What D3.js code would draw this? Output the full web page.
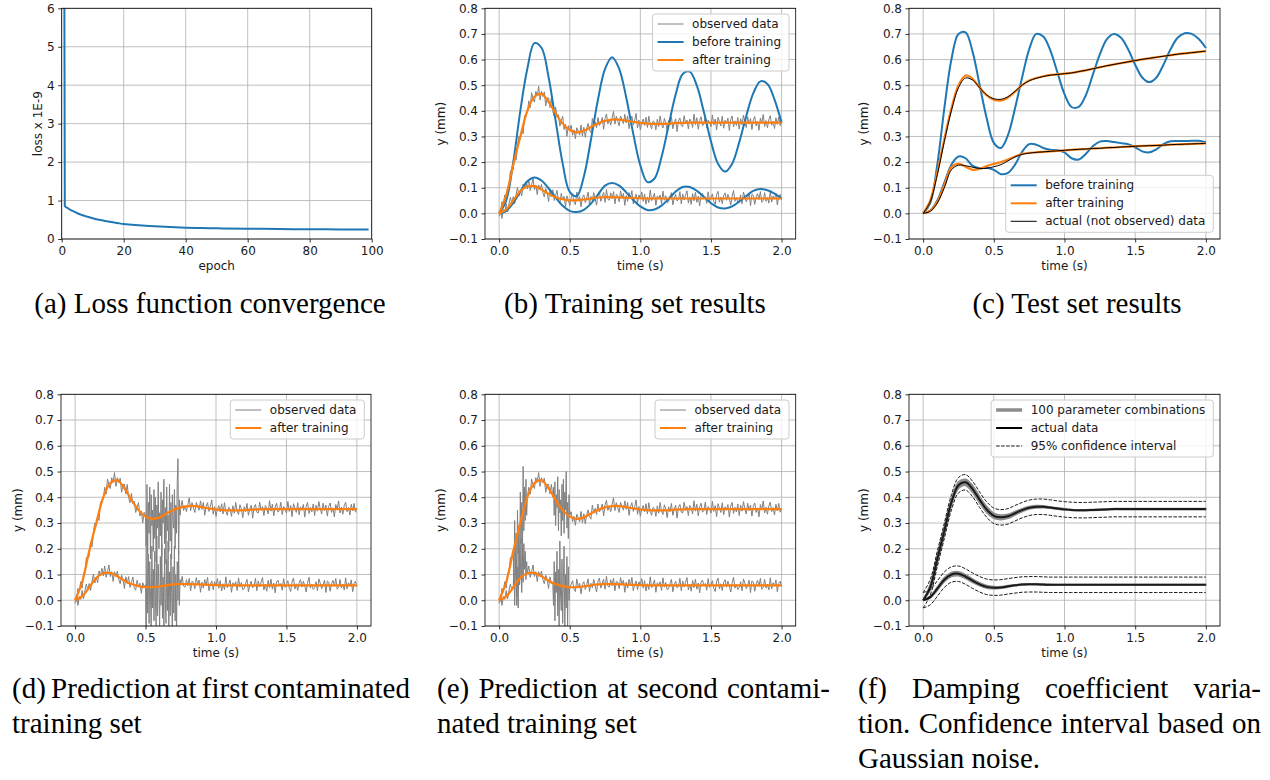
<!DOCTYPE html>
<html><head><meta charset="utf-8">
<script src="https://cdn.jsdelivr.net/npm/d3@7"></script>
<style>
body{margin:0;background:#fff}
svg text{font-family:"DejaVu Sans",sans-serif}
.cap{font-family:"Liberation Serif","Times New Roman",serif;font-size:29px;fill:#000}
</style></head><body>
<svg id="fig" width="1270" height="780"></svg>
<script>
// ---------------- DATA ----------------
// (a) loss convergence
const lossEpochs = [0,1,2,3,4,5,6,7,8,10,12,14,16,18,20,25,30,35,40,45,50,60,70,80,90,99];
const lossValues = [40,.86,.80,.75,.71,.67,.64,.61,.585,.54,.50,.47,.44,.415,.39,.355,.33,.31,.295,.285,.278,.268,.26,.253,.248,.244];
const lossXTicks = [0,20,40,60,80,100];
const lossYTicks = [0,1,2,3,4,5,6];

// common time grid for smooth curves (s)
const T = [0,.05,.1,.15,.2,.25,.3,.35,.4,.45,.5,.55,.6,.65,.7,.75,.8,.85,.9,.95,1,1.05,1.1,1.15,1.2,1.25,1.3,1.35,1.4,1.45,1.5,1.55,1.6,1.65,1.7,1.75,1.8,1.85,1.9,1.95,2];
const timeTicks = [0,0.5,1,1.5,2];
const yTicks = [-0.1,0,0.1,0.2,0.3,0.4,0.5,0.6,0.7,0.8];

// (b) training set
const trainBeforeUp = [0,.05,.2,.4,.565,.664,.646,.532,.362,.194,.084,.068,.144,.287,.444,.564,.609,.564,.452,.31,.187,.122,.136,.22,.343,.464,.544,.553,.498,.395,.281,.194,.163,.194,.277,.38,.469,.515,.505,.444,.354];
const trainBeforeLo = [0,.01,.04,.085,.125,.14,.128,.098,.062,.03,.01,.005,.014,.038,.073,.108,.118,.108,.082,.052,.027,.013,.015,.03,.056,.085,.103,.103,.088,.064,.04,.023,.019,.027,.046,.068,.088,.095,.09,.077,.058];
const trainAfterUp = [0,.07,.19,.30,.40,.455,.466,.435,.39,.35,.325,.316,.322,.337,.351,.361,.366,.366,.362,.357,.353,.35,.349,.349,.35,.352,.353,.354,.354,.354,.354,.354,.354,.354,.354,.354,.354,.354,.354,.354,.354];
const trainAfterLo = [0,.015,.05,.087,.105,.106,.093,.076,.063,.055,.051,.051,.054,.058,.062,.063,.063,.062,.061,.06,.059,.058,.058,.058,.058,.058,.058,.058,.058,.058,.058,.058,.058,.058,.058,.058,.058,.058,.058,.058,.058];

// observed (noisy) data, sampled every 0.01 s from 0 to 2 s
const obsUp = [
.008,-.004,.046,.035,.072,.047,.105,.108,.167,.162,
.172,.227,.207,.262,.30,.289,.323,.31,.379,.389,
.393,.439,.412,.471,.447,.434,.476,.458,.496,.442,
.476,.456,.474,.419,.449,.451,.413,.45,.398,.379,
.415,.375,.385,.341,.361,.379,.327,.347,.301,.342,
.324,.344,.305,.326,.291,.334,.321,.305,.345,.301,
.336,.297,.331,.351,.325,.315,.37,.338,.357,.333,
.374,.343,.352,.374,.328,.37,.388,.349,.366,.344,
.372,.398,.348,.379,.359,.341,.38,.365,.35,.386,
.353,.38,.33,.363,.379,.345,.364,.39,.334,.364,
.326,.354,.368,.343,.375,.335,.379,.345,.33,.361,
.356,.326,.367,.338,.38,.347,.333,.371,.354,.321,
.363,.344,.376,.33,.353,.369,.319,.361,.372,.342,
.339,.381,.35,.364,.329,.368,.359,.335,.387,.346,
.373,.328,.362,.377,.342,.349,.381,.333,.364,.356,
.338,.384,.345,.368,.325,.375,.358,.341,.379,.332,
.363,.35,.372,.323,.366,.38,.337,.361,.343,.374,
.329,.369,.346,.383,.355,.335,.377,.348,.37,.327,
.365,.378,.341,.359,.324,.372,.352,.386,.339,.362,
.334,.367,.381,.344,.36,.331,.373,.347,.376,.342,
.358];
const obsLo = [
-.012,.021,-.02,.015,.003,.038,.005,.039,.063,.039,
.065,.038,.074,.101,.067,.09,.068,.114,.095,.124,
.095,.133,.089,.112,.137,.092,.111,.073,.111,.093,
.113,.08,.064,.097,.081,.046,.091,.065,.092,.05,
.069,.09,.049,.039,.078,.052,.066,.027,.068,.053,
.03,.061,.076,.044,.034,.083,.051,.066,.025,.062,
.072,.042,.06,.083,.034,.066,.049,.081,.056,.032,
.075,.086,.047,.066,.082,.043,.093,.055,.051,.08,
.057,.085,.037,.074,.07,.045,.088,.06,.078,.031,
.07,.047,.081,.056,.089,.037,.061,.075,.041,.072,
.056,.084,.047,.076,.036,.064,.042,.091,.049,.062,
.079,.031,.068,.057,.072,.038,.087,.051,.069,.041,
.045,.066,.081,.033,.06,.074,.048,.054,.085,.037,
.075,.052,.07,.088,.04,.063,.035,.077,.049,.082,
.043,.067,.029,.071,.078,.056,.065,.039,.084,.05,
.061,.076,.046,.034,.073,.086,.044,.064,.038,.069,
.08,.051,.074,.057,.032,.068,.089,.047,.062,.042,
.049,.072,.037,.083,.066,.045,.059,.078,.03,.075,
.07,.035,.064,.077,.054,.085,.043,.05,.081,.047,
.063,.04,.087,.044,.068,.055,.079,.033,.066,.074,
.053];

// contaminated segments (sampled every 0.005 s)
// (d) first contaminated set: 0.50 - 0.75 s
const segDStart = 0.5, segDEnd = 0.75;
const segUpD = [.33,.21,.45,.18,.38,.26,.44,.16,.41,.29,.35,.19,.43,.24,.40,.15,.37,.28,.46,.2,.34,.25,.42,.17,.39,.3,.47,.22,.36,.14,.44,.27,.33,.19,.45,.23,.38,.16,.41,.31,.28,.43,.2,.37,.26,.46,.55,.18,.39,.33,.36];
const segLoD = [.06,-.11,.24,-.05,.18,-.09,.15,.02,-.12,.21,-.03,.12,-.08,.19,0,-.1,.25,-.06,.14,.04,-.11,.17,-.02,.22,-.07,.09,-.12,.2,.01,-.09,.16,-.04,.23,-.1,.11,-.06,.18,.03,-.12,.13,-.05,.21,-.08,.1,-.13,.15,0,.19,-.02,.08,.06];
// (e) second contaminated set: 0.10 - 0.20 s and 0.38 - 0.50 s
const segE1Start = 0.1, segE1End = 0.2, segE2Start = 0.38, segE2End = 0.5;
const segUpE1 = [.19,.05,.31,.12,.26,-.02,.35,.18,.29,.09,.42,.22,.38,.15,.52,.27,.44,.31,.47,.33,.40];
const segLoE1 = [.05,.12,-.02,.09,.16,.01,.13,-.03,.2,.06,.1,.24,.03,.17,.07,.22,.12,.19,.08,.15,.105];
const segUpE2 = [.40,.44,.33,.46,.29,.41,.36,.48,.27,.43,.34,.39,.25,.45,.31,.47,.26,.42,.35,.5,.28,.38,.24,.41,.33];
const segLoE2 = [.07,-.02,.15,-.08,.11,.03,.19,-.06,.12,-.11,.23,.02,-.04,.16,-.09,.08,.21,-.12,.1,-.03,.17,-.1,.13,0,.05];

// (c) test set
const testBeforeUp = [0,.04,.19,.41,.6,.7,.706,.63,.5,.37,.275,.255,.305,.41,.53,.64,.70,.69,.635,.55,.465,.415,.415,.46,.54,.62,.68,.70,.685,.64,.58,.53,.512,.53,.58,.64,.685,.703,.70,.68,.645];
const testAfterUp = [0,.05,.16,.29,.41,.5,.538,.525,.49,.46,.443,.44,.452,.475,.50,.518,.528,.535,.54,.542,.545,.548,.553,.558,.564,.57,.576,.581,.586,.591,.596,.601,.605,.609,.613,.617,.621,.624,.627,.63,.633];
const testActualUp = [0,.045,.15,.28,.40,.49,.528,.52,.49,.462,.447,.445,.455,.476,.50,.517,.527,.534,.539,.542,.545,.548,.553,.558,.564,.57,.576,.581,.586,.591,.596,.601,.605,.609,.613,.617,.621,.624,.627,.63,.633];
const testBeforeLo = [0,.01,.05,.12,.19,.222,.215,.185,.176,.178,.17,.153,.158,.19,.24,.27,.268,.255,.248,.246,.238,.215,.21,.232,.262,.28,.282,.278,.274,.27,.258,.242,.238,.25,.27,.281,.282,.282,.283,.283,.278];
const testAfterLo = [0,.01,.045,.11,.18,.193,.182,.17,.174,.185,.193,.20,.21,.222,.232,.236,.238,.24,.242,.244,.246,.248,.25,.251,.253,.254,.256,.257,.259,.26,.262,.263,.264,.265,.266,.268,.269,.27,.271,.272,.273];
const testActualLo = [0,.008,.04,.10,.17,.188,.186,.18,.175,.176,.182,.19,.205,.22,.23,.235,.238,.24,.242,.244,.246,.248,.25,.251,.253,.254,.256,.257,.259,.26,.262,.263,.264,.265,.266,.268,.269,.27,.271,.272,.273];

// (f) damping coefficient variation
const dampActualUp = [0,.05,.16,.27,.38,.447,.458,.432,.39,.352,.328,.322,.326,.338,.35,.359,.363,.363,.36,.356,.353,.351,.35,.35,.351,.352,.353,.354,.354,.354,.354,.354,.354,.354,.354,.354,.354,.354,.354,.354,.354];
const combosHiUp = [0,.062,.176,.286,.393,.46,.47,.446,.403,.364,.338,.331,.334,.345,.356,.364,.368,.367,.363,.359,.356,.353,.352,.352,.353,.354,.355,.356,.356,.356,.356,.356,.356,.356,.356,.356,.356,.356,.356,.356,.356];
const combosLoUp = [0,.038,.144,.254,.367,.434,.446,.418,.377,.34,.318,.313,.318,.331,.344,.354,.358,.359,.357,.353,.35,.349,.348,.348,.349,.35,.351,.352,.352,.352,.352,.352,.352,.352,.352,.352,.352,.352,.352,.352,.352];
const ciHiUp = [.03,.08,.19,.30,.41,.477,.488,.462,.42,.382,.358,.352,.356,.368,.38,.389,.393,.393,.39,.386,.383,.381,.38,.38,.381,.382,.383,.384,.384,.384,.384,.384,.384,.384,.384,.384,.384,.384,.384,.384,.384];
const ciLoUp = [-.03,.02,.13,.24,.35,.417,.428,.402,.36,.322,.298,.292,.296,.308,.32,.329,.333,.333,.33,.326,.323,.321,.32,.32,.321,.322,.323,.324,.324,.324,.324,.324,.324,.324,.324,.324,.324,.324,.324,.324,.324];
const dampActualLo = [0,.012,.045,.08,.1,.103,.092,.076,.062,.052,.049,.05,.054,.058,.061,.062,.062,.061,.06,.06,.06,.06,.06,.06,.06,.06,.06,.06,.06,.06,.06,.06,.06,.06,.06,.06,.06,.06,.06,.06,.06];
const combosHiLo = [0,.016,.052,.088,.108,.111,.1,.083,.068,.057,.053,.053,.057,.06,.063,.064,.064,.063,.062,.061,.061,.061,.061,.061,.061,.061,.061,.061,.061,.061,.061,.061,.061,.061,.061,.061,.061,.061,.061,.061,.061];
const combosLoLo = [0,.008,.038,.072,.092,.095,.084,.069,.056,.047,.045,.047,.051,.056,.059,.06,.06,.059,.058,.059,.059,.059,.059,.059,.059,.059,.059,.059,.059,.059,.059,.059,.059,.059,.059,.059,.059,.059,.059,.059,.059];
const ciHiLo = [.03,.042,.075,.11,.13,.133,.122,.106,.092,.082,.079,.08,.084,.088,.091,.092,.092,.091,.09,.09,.09,.09,.09,.09,.09,.09,.09,.09,.09,.09,.09,.09,.09,.09,.09,.09,.09,.09,.09,.09,.09];
const ciLoLo = [-.03,-.018,.015,.05,.07,.073,.062,.046,.032,.022,.019,.02,.024,.028,.031,.032,.032,.031,.03,.03,.03,.03,.03,.03,.03,.03,.03,.03,.03,.03,.03,.03,.03,.03,.03,.03,.03,.03,.03,.03,.03];

// captions
const captionA = "(a) Loss function convergence";
const captionB = "(b) Training set results";
const captionC = "(c) Test set results";
const captionD = ["(d) Prediction at first contaminated", "training set"];
const captionE = ["(e) Prediction at second contami-", "nated training set"];
const captionF = ["(f) Damping coefficient varia-", "tion. Confidence interval based on", "Gaussian noise."];

// ---------------- DRAWING ----------------
const BLUE = "#1f77b4", ORANGE = "#ff7f0e", GREY = "#808080";
const FS = 12;
const fig = d3.select("#fig");
fig.append("rect").attr("width",1270).attr("height",780).attr("fill","#fff");

const T100 = d3.range(201).map(i => i / 100);
const pts = (ts, ys) => ts.map((t, i) => ({t, y: ys[i]}));
const segTimes = (t0, n) => d3.range(n).map(i => t0 + i * 0.005);
function spliceSeg(base, segs) {
  let out = base.filter(p => !segs.some(s => p.t >= s.t0 - 1e-9 && p.t <= s.t1 + 1e-9));
  segs.forEach(s => { out = out.concat(s.pts); });
  return out.sort((a, b) => a.t - b.t);
}

let clipN = 0;
function makePanel(b, xDom, yDom, xTicks, yTicks, xFmt, yFmt, xLab, yLab, yLabOff) {
  const x = d3.scaleLinear().domain(xDom).range([b.x0, b.x1]);
  const y = d3.scaleLinear().domain(yDom).range([b.y1, b.y0]);
  const g = fig.append("g");
  const grid = g.append("g").attr("stroke", "#b0b0b0").attr("stroke-width", 0.8);
  xTicks.forEach(v => grid.append("line").attr("x1", x(v)).attr("x2", x(v)).attr("y1", b.y0).attr("y2", b.y1));
  yTicks.forEach(v => grid.append("line").attr("y1", y(v)).attr("y2", y(v)).attr("x1", b.x0).attr("x2", b.x1));
  const id = "clip" + (clipN++);
  g.append("clipPath").attr("id", id).append("rect")
    .attr("x", b.x0).attr("y", b.y0).attr("width", b.x1 - b.x0).attr("height", b.y1 - b.y0);
  const plot = g.append("g").attr("clip-path", `url(#${id})`);
  const ax = g.append("g").attr("transform", `translate(0,${b.y1})`)
    .call(d3.axisBottom(x).tickValues(xTicks).tickFormat(xFmt).tickSize(3.5).tickPadding(3.5));
  const ay = g.append("g").attr("transform", `translate(${b.x0},0)`)
    .call(d3.axisLeft(y).tickValues(yTicks).tickFormat(yFmt).tickSize(3.5).tickPadding(3.5));
  [ax, ay].forEach(a => {
    a.select(".domain").remove();
    a.selectAll("line").attr("stroke", "#000").attr("stroke-width", 0.8);
    a.selectAll("text").attr("font-size", FS).attr("font-family", "DejaVu Sans").attr("fill", "#1a1a1a");
  });
  g.append("rect").attr("x", b.x0).attr("y", b.y0).attr("width", b.x1 - b.x0).attr("height", b.y1 - b.y0)
    .attr("fill", "none").attr("stroke", "#000").attr("stroke-width", 0.8);
  g.append("text").attr("x", (b.x0 + b.x1) / 2).attr("y", b.y1 + 31).attr("text-anchor", "middle")
    .attr("font-size", FS).attr("fill", "#1a1a1a").text(xLab);
  g.append("text").attr("transform", `translate(${b.x0 - yLabOff},${(b.y0 + b.y1) / 2}) rotate(-90)`)
    .attr("text-anchor", "middle").attr("dy", "0.35em").attr("font-size", FS).attr("fill", "#1a1a1a").text(yLab);
  return {g, plot, x, y, b};
}

function drawLine(P, data, color, w, curve, dash) {
  const gen = d3.line().x(d => P.x(d.t)).y(d => P.y(d.y)).curve(curve || d3.curveCatmullRom.alpha(0.5));
  P.plot.append("path").attr("d", gen(data)).attr("fill", "none").attr("stroke", color)
    .attr("stroke-width", w).attr("stroke-linejoin", "round").attr("stroke-dasharray", dash || null);
}

function legend(P, items, loc) {
  const lg = P.g.append("g");
  const box = lg.append("rect");
  const inner = lg.append("g");
  let maxW = 0;
  items.forEach((it, i) => {
    const cy = 10 + 18 * i;
    inner.append("line").attr("x1", 5).attr("x2", 31).attr("y1", cy).attr("y2", cy)
      .attr("stroke", it.color).attr("stroke-width", it.w).attr("stroke-dasharray", it.dash || null);
    const t = inner.append("text").attr("x", 39.5).attr("y", cy).attr("dy", "0.35em")
      .attr("font-size", FS).attr("fill", "#1a1a1a").text(it.label);
    maxW = Math.max(maxW, t.node().getComputedTextLength());
  });
  const w = 39.5 + maxW + 8, h = 18 * items.length + 3;
  const bx = P.b.x1 - 6.7 - w;
  const by = loc === "lower right" ? P.b.y1 - 6.7 - h : P.b.y0 + 5.7;
  box.attr("width", w).attr("height", h).attr("rx", 3).attr("fill", "#fff").attr("fill-opacity", 0.8)
    .attr("stroke", "#cccccc").attr("stroke-width", 1);
  lg.attr("transform", `translate(${bx},${by})`);
}

const fmtY = d3.format(".1f");
const fmtInt = d3.format("d");

// Panel (a)
const PA = makePanel({x0: 61.7, x1: 371.7, y0: 8.3, y1: 239}, [0, 100], [0, 6], lossXTicks, lossYTicks,
  fmtInt, fmtInt, "epoch", "loss x 1E-9", 24);
drawLine(PA, pts(lossEpochs, lossValues), BLUE, 2, d3.curveMonotoneX);

// Panel (b)
const PB = makePanel({x0: 485, x1: 795.7, y0: 8.3, y1: 239}, [-0.1, 2.1], [-0.1, 0.8], timeTicks, yTicks,
  fmtY, fmtY, "time (s)", "y (mm)", 44);
drawLine(PB, pts(T100, obsUp), GREY, 1, d3.curveLinear);
drawLine(PB, pts(T100, obsLo), GREY, 1, d3.curveLinear);
drawLine(PB, pts(T, trainBeforeUp), BLUE, 2);
drawLine(PB, pts(T, trainBeforeLo), BLUE, 2);
drawLine(PB, pts(T, trainAfterUp), ORANGE, 2.2);
drawLine(PB, pts(T, trainAfterLo), ORANGE, 2.2);
legend(PB, [{label: "observed data", color: GREY, w: 1}, {label: "before training", color: BLUE, w: 2},
  {label: "after training", color: ORANGE, w: 2}], "upper right");

// Panel (c)
const PC = makePanel({x0: 909, x1: 1220, y0: 8.3, y1: 239}, [-0.1, 2.1], [-0.1, 0.8], timeTicks, yTicks,
  fmtY, fmtY, "time (s)", "y (mm)", 45);
drawLine(PC, pts(T, testBeforeUp), BLUE, 2);
drawLine(PC, pts(T, testBeforeLo), BLUE, 2);
drawLine(PC, pts(T, testAfterUp), ORANGE, 2.2);
drawLine(PC, pts(T, testAfterLo), ORANGE, 2.2);
drawLine(PC, pts(T, testActualUp), "#000", 1);
drawLine(PC, pts(T, testActualLo), "#000", 1);
legend(PC, [{label: "before training", color: BLUE, w: 2}, {label: "after training", color: ORANGE, w: 2},
  {label: "actual (not observed) data", color: "#000", w: 1}], "lower right");

// Panel (d)
const PD = makePanel({x0: 61, x1: 371, y0: 394.3, y1: 626}, [-0.1, 2.1], [-0.1, 0.8], timeTicks, yTicks,
  fmtY, fmtY, "time (s)", "y (mm)", 43);
drawLine(PD, spliceSeg(pts(T100, obsUp), [{t0: segDStart, t1: segDEnd, pts: pts(segTimes(segDStart, segUpD.length), segUpD)}]), GREY, 1, d3.curveLinear);
drawLine(PD, spliceSeg(pts(T100, obsLo), [{t0: segDStart, t1: segDEnd, pts: pts(segTimes(segDStart, segLoD.length), segLoD)}]), GREY, 1, d3.curveLinear);
drawLine(PD, pts(T, trainAfterUp), ORANGE, 2.2);
drawLine(PD, pts(T, trainAfterLo), ORANGE, 2.2);
legend(PD, [{label: "observed data", color: GREY, w: 1}, {label: "after training", color: ORANGE, w: 2}], "upper right");

// Panel (e)
const PE = makePanel({x0: 485, x1: 795.7, y0: 394.3, y1: 626}, [-0.1, 2.1], [-0.1, 0.8], timeTicks, yTicks,
  fmtY, fmtY, "time (s)", "y (mm)", 44);
drawLine(PE, spliceSeg(pts(T100, obsUp), [
  {t0: segE1Start, t1: segE1End, pts: pts(segTimes(segE1Start, segUpE1.length), segUpE1)},
  {t0: segE2Start, t1: segE2End, pts: pts(segTimes(segE2Start, segUpE2.length), segUpE2)}]), GREY, 1, d3.curveLinear);
drawLine(PE, spliceSeg(pts(T100, obsLo), [
  {t0: segE1Start, t1: segE1End, pts: pts(segTimes(segE1Start, segLoE1.length), segLoE1)},
  {t0: segE2Start, t1: segE2End, pts: pts(segTimes(segE2Start, segLoE2.length), segLoE2)}]), GREY, 1, d3.curveLinear);
drawLine(PE, pts(T, trainAfterUp), ORANGE, 2.2);
drawLine(PE, pts(T, trainAfterLo), ORANGE, 2.2);
legend(PE, [{label: "observed data", color: GREY, w: 1}, {label: "after training", color: ORANGE, w: 2}], "upper right");

// Panel (f)
const PF = makePanel({x0: 909, x1: 1220, y0: 394.3, y1: 626}, [-0.1, 2.1], [-0.1, 0.8], timeTicks, yTicks,
  fmtY, fmtY, "time (s)", "y (mm)", 45);
function band(P, lo, hi) {
  const data = T.map((t, i) => ({t, lo: lo[i], hi: hi[i]}));
  const a = d3.area().x(d => P.x(d.t)).y0(d => P.y(d.lo)).y1(d => P.y(d.hi)).curve(d3.curveCatmullRom.alpha(0.5));
  P.plot.append("path").attr("d", a(data)).attr("fill", "#8c8c8c").attr("stroke", "#8c8c8c").attr("stroke-width", 1.5);
}
band(PF, combosLoUp, combosHiUp);
band(PF, combosLoLo, combosHiLo);
drawLine(PF, pts(T, dampActualUp), "#1a1a1a", 2);
drawLine(PF, pts(T, dampActualLo), "#1a1a1a", 2);
[ciHiUp, ciLoUp, ciHiLo, ciLoLo].forEach(arr => drawLine(PF, pts(T, arr), "#000", 0.9, null, "3.5,1.5"));
legend(PF, [{label: "100 parameter combinations", color: "#8c8c8c", w: 3.5}, {label: "actual data", color: "#000", w: 2},
  {label: "95% confidence interval", color: "#000", w: 0.9, dash: "3.5,1.5"}], "upper right");

// ---------------- CAPTIONS ----------------
function capCenter(cx, yb, text) {
  fig.append("text").attr("class", "cap").attr("x", cx).attr("y", yb).attr("text-anchor", "middle").text(text);
}
function capLeft(x0, yb, text) {
  fig.append("text").attr("class", "cap").attr("x", x0).attr("y", yb).text(text);
}
function capJustify(x0, x1, yb, text) {
  const words = text.split(" ");
  const nodes = words.map(w => fig.append("text").attr("class", "cap").attr("y", yb).text(w));
  const widths = nodes.map(n => n.node().getComputedTextLength());
  const gap = (x1 - x0 - d3.sum(widths)) / (words.length - 1);
  let cx = x0;
  nodes.forEach((n, i) => { n.attr("x", cx); cx += widths[i] + gap; });
}
capCenter(210, 313, captionA);
capCenter(635, 313, captionB);
capCenter(1077, 313, captionC);
capJustify(12, 410, 698, captionD[0]);
capLeft(12, 733, captionD[1]);
capJustify(437, 830, 698, captionE[0]);
capLeft(437, 733, captionE[1]);
capJustify(858, 1261, 698, captionF[0]);
capJustify(858, 1261, 733, captionF[1]);
capLeft(858, 768, captionF[2]);
</script>
</body></html>
